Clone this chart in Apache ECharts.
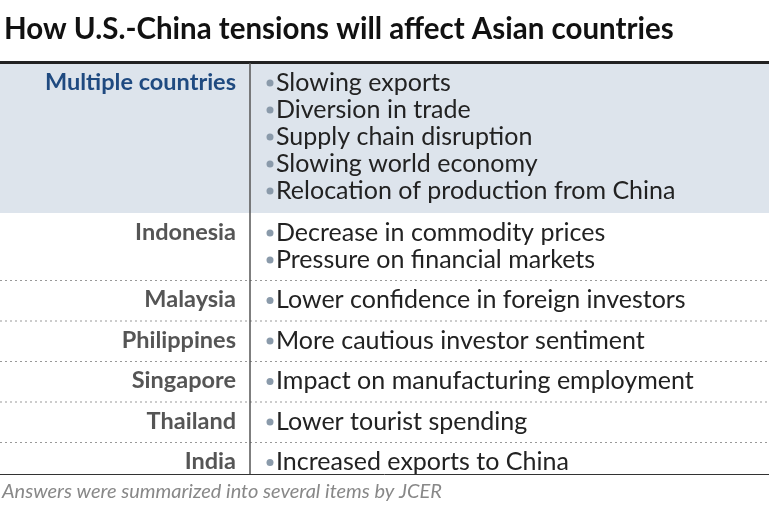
<!DOCTYPE html>
<html><head><meta charset="utf-8">
<script src="https://cdn.jsdelivr.net/npm/echarts@6/dist/echarts.min.js"></script>
<style>html,body{margin:0;background:#fff}#c{width:769px;height:514px}</style>
</head><body><div id="c"></div>
<script>
var title = 'How U.S.-China tensions will affect Asian countries';
var countries = ['Multiple countries', 'Indonesia', 'Malaysia', 'Philippines', 'Singapore', 'Thailand', 'India'];
var items = [
    ['Slowing exports', 'Diversion in trade', 'Supply chain disruption', 'Slowing world economy', 'Relocation of production from China'],
    ['Decrease in commodity prices', 'Pressure on financial markets'],
    ['Lower confidence in foreign investors'],
    ['More cautious investor sentiment'],
    ['Impact on manufacturing employment'],
    ['Lower tourist spending'],
    ['Increased exports to China']
];
var note = 'Answers were summarized into several items by JCER';

var font = 'Lato';
var top0 = 63, lineH = 27, pad = 6, sepX = 250;
var g = [];
g.push({type: 'text', left: 4, top: 14, style: {text: title, font: 'bold 29.5px ' + font, fill: '#111'}});
g.push({type: 'rect', shape: {x: 0, y: 61, width: 769, height: 3}, style: {fill: '#222'}});
var y = top0;
countries.forEach(function(c, i) {
    var last = i === countries.length - 1;
    var h = last ? 32 : items[i].length * lineH + pad * 2 + (i === 0 ? 3 : 1.5);
    if (i === 0) g.push({type: 'rect', z: -1, shape: {x: 0, y: y + 1, width: 769, height: h - 1}, style: {fill: '#dde4ec'}});
    g.push({type: 'text', style: {text: c, x: 236, y: y + pad + 1, align: 'right', font: 'bold 23.5px ' + font, fill: i === 0 ? '#1f4a80' : '#555'}});
    items[i].forEach(function(t, j) {
        var ty = y + pad + 1 + j * lineH;
        g.push({type: 'circle', shape: {cx: 270, cy: ty + 13, r: 3.5}, style: {fill: '#8a9aaa'}});
        g.push({type: 'text', style: {text: t, x: 276, y: ty, font: '25px ' + font, fill: '#222'}});
    });
    y += h;
    if (i > 0 && !last)
        g.push({type: 'line', shape: {x1: 0, y1: y, x2: 769, y2: y}, style: {stroke: '#999', lineWidth: 1, lineDash: [2, 3]}});
});
g.push({type: 'line', shape: {x1: sepX, y1: top0, x2: sepX, y2: y}, style: {stroke: '#555', lineWidth: 1.5}});
g.push({type: 'line', shape: {x1: 0, y1: y, x2: 769, y2: y}, style: {stroke: '#333', lineWidth: 1}});
g.push({type: 'text', style: {text: note, x: 2, y: y + 7, font: 'italic 20px ' + font, fill: '#888'}});

var chart = echarts.init(document.getElementById('c'));
chart.setOption({animation: false, graphic: g});
</script></body></html>
